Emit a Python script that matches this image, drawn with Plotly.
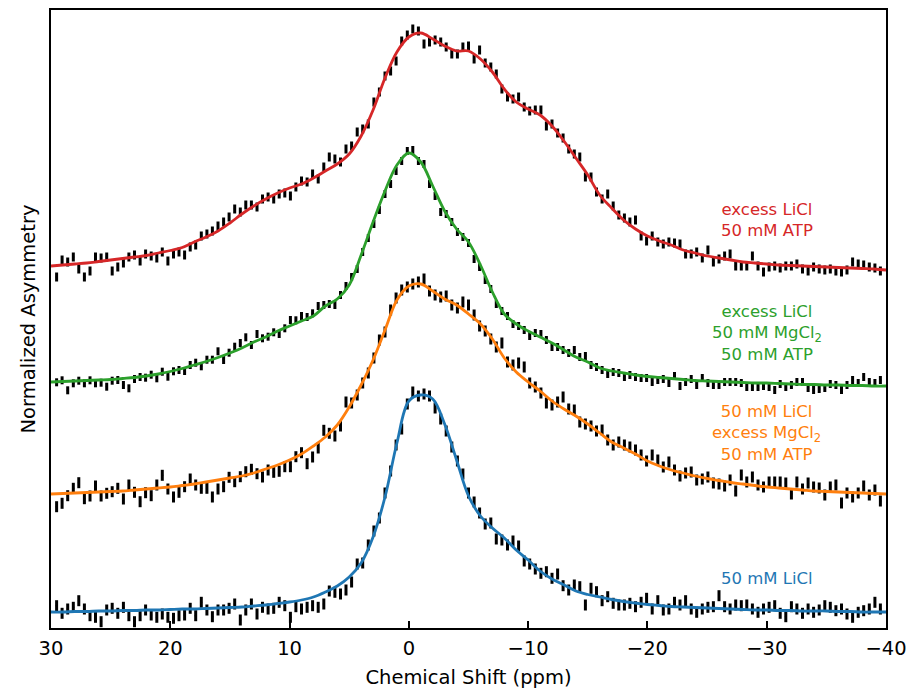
import plotly.graph_objects as go

# ---------------- data ----------------
# chemical-shift grid of the measured points (ppm)
PPM = [29.53, 29.07, 28.60, 28.13, 27.67, 27.20, 26.73, 26.27, 25.80, 25.33, 24.87, 24.40, 23.93, 23.47, 23.00,
       22.53, 22.07, 21.60, 21.13, 20.67, 20.20, 19.73, 19.27, 18.80, 18.33, 17.87, 17.40, 16.93, 16.47, 16.00,
       15.53, 15.07, 14.60, 14.13, 13.67, 13.20, 12.73, 12.27, 11.80, 11.33, 10.87, 10.40, 9.93, 9.47, 9.00,
       8.53, 8.07, 7.60, 7.13, 6.67, 6.20, 5.73, 5.27, 4.80, 4.33, 3.87, 3.40, 2.93, 2.47, 2.00,
       1.53, 1.07, 0.60, 0.13, -0.33, -0.80, -1.27, -1.73, -2.20, -2.67, -3.13, -3.60, -4.07, -4.53, -5.00,
       -5.47, -5.93, -6.40, -6.87, -7.33, -7.80, -8.27, -8.73, -9.20, -9.67, -10.13, -10.60, -11.07, -11.53, -12.00,
       -12.47, -12.93, -13.40, -13.87, -14.33, -14.80, -15.27, -15.73, -16.20, -16.67, -17.13, -17.60, -18.07, -18.53, -19.00,
       -19.47, -19.93, -20.40, -20.87, -21.33, -21.80, -22.27, -22.73, -23.20, -23.67, -24.13, -24.60, -25.07, -25.53, -26.00,
       -26.47, -26.93, -27.40, -27.87, -28.33, -28.80, -29.27, -29.73, -30.20, -30.67, -31.13, -31.60, -32.07, -32.53, -33.00,
       -33.47, -33.93, -34.40, -34.87, -35.33, -35.80, -36.27, -36.73, -37.20, -37.67, -38.13, -38.60, -39.07, -39.53]

# measured asymmetry (offset, arbitrary units)
RED_DATA = [351, 368, 366, 371, 359, 351, 357, 371, 370, 371,
            357, 361, 365, 371, 373, 367, 374, 372, 370, 376,
            367, 374, 376, 373, 381, 383, 392, 394, 397, 402,
            406, 411, 419, 416, 423, 423, 421, 429, 431, 429,
            434, 435, 432, 441, 447, 446, 454, 449, 461, 471,
            469, 466, 479, 482, 496, 499, 504, 526, 536, 552,
            557, 567, 587, 593, 599, 597, 584, 586, 588, 586,
            581, 574, 574, 581, 582, 569, 578, 565, 561, 554,
            539, 531, 529, 531, 521, 517, 518, 518, 502, 504,
            495, 490, 479, 474, 471, 451, 451, 436, 429, 434,
            422, 413, 410, 406, 408, 392, 387, 392, 386, 384,
            386, 385, 384, 374, 374, 376, 370, 378, 366, 369,
            372, 374, 362, 362, 362, 372, 362, 356, 361, 362,
            360, 362, 362, 364, 359, 357, 361, 359, 358, 359,
            357, 356, 358, 366, 364, 363, 361, 360, 357]

GREEN_DATA = [245.7, 247.7, 237.7, 244.7, 247.3, 244.7, 247.7, 244.7, 245.3, 241.3,
              247.3, 248, 243, 239.7, 249, 251, 250.3, 253.3, 249.7, 256.3,
              251.3, 256.7, 258, 257, 263, 265.3, 261.7, 268.3, 268.3, 276.7,
              268, 275.3, 281.3, 285, 290.7, 283, 294, 289.7, 291.3, 295.7,
              294, 299.7, 308, 307.7, 312, 311, 314.7, 322, 323, 324,
              323, 333, 342, 351, 359, 376, 390, 404, 418, 434,
              444, 457, 467, 477, 478, 467, 464, 444, 432, 416,
              414, 406, 396, 391, 385, 369, 361, 348, 339, 324,
              317, 312, 304, 302, 298, 292, 295, 294, 288, 281,
              281, 278, 275, 278, 271, 272, 263, 261, 258, 254,
              256, 255, 251, 253, 251, 250, 250, 246, 248, 249,
              245, 252, 242, 246, 249, 243, 250, 245, 243, 243,
              246, 246, 246, 245, 241, 241, 241, 242, 241, 238,
              244, 241, 243, 246, 246, 240, 238, 239, 240, 244,
              243, 238, 243, 248, 245, 251, 246, 245, 248]

ORANGE_DATA = [121.3, 124.7, 132.3, 139.7, 145.3, 129.3, 132, 142, 132, 134.7,
               136.3, 139.7, 129, 143, 135.7, 126.3, 135.3, 132.3, 143, 152.7,
               139, 131, 135.7, 141.3, 149, 143, 139.7, 139.7, 131, 139,
               141.3, 150.7, 146.3, 151.3, 156.3, 158.7, 154.3, 151, 158, 155.7,
               156.7, 161.3, 161.3, 171.3, 175.3, 164.3, 171, 180, 197.7, 194.7,
               192, 202, 226, 225, 233, 245, 255, 270, 288, 296,
               318, 330, 338, 341, 344, 346, 349, 337, 333, 331,
               332, 323, 320, 326, 323, 313, 302, 297, 289, 281,
               285, 266, 263, 265, 261, 245, 241, 235, 225, 223,
               226, 231, 219, 218, 206, 204, 202, 197, 198, 188,
               183, 186, 183, 181, 178, 173, 167, 173, 168, 161,
               166, 158, 152, 155, 156, 148, 149, 151, 145, 144,
               142, 148, 137, 153, 146, 151, 143, 141, 146, 146,
               146, 145, 134, 146, 139, 145, 141, 140, 133, 141,
               143, 125, 135, 131, 135, 142, 133, 138, 127]

BLUE_DATA = [22.3, 14.7, 19, 20.7, 27.3, 19, 12.3, 10.7, 6.3, 18,
             19.7, 14.7, 20.7, 12.3, 6.3, 12.3, 18, 13, 10.7, 14,
             10.7, 9.7, 12.3, 13, 19.7, 12.3, 25.7, 18, 11.3, 18,
             18, 19.7, 24, 8, 18, 24, 14, 20.7, 19, 19.7,
             25.7, 22.3, 10.7, 21.3, 19, 20.7, 22.3, 20.7, 24, 37,
             35.7, 34, 38, 46, 64, 65, 83, 97, 110, 135,
             157, 183, 199, 224, 236, 232, 234, 232, 220, 209,
             197, 181, 167, 154, 135, 126, 115, 104, 105, 89,
             88, 83, 87, 82, 67, 64, 59, 54.7, 56.3, 49.7,
             54, 42.3, 38, 43, 41.3, 23, 39.7, 36.3, 27.3, 31.3,
             24.7, 23, 23, 24.7, 21.3, 25.7, 29.7, 19, 27.3, 18,
             19, 25.7, 23, 27.3, 19, 15.7, 19, 20.7, 21.3, 32.3,
             21.3, 19, 23, 22.3, 23, 19, 15.7, 19, 20.7, 22.3,
             14.7, 11.3, 21.3, 19, 14.7, 19, 15.7, 18, 22.3, 20.7,
             17.3, 19, 14, 10.7, 15.7, 17.3, 19, 25.7, 19]

# uncertainty (half length of the error bars)
RED_ERR = 4.5
GREEN_ERR = 4.0
ORANGE_ERR = 5.5
BLUE_ERR = 5.5

# fitted curves, sampled every 1 ppm
FIT_PPM = [30, 29, 28, 27, 26, 25, 24, 23, 22, 21, 20, 19, 18, 17, 16, 15, 14, 13, 12, 11,
           10, 9, 8, 7, 6, 5, 4, 3, 2, 1, 0, -1, -2, -3, -4, -5, -6, -7, -8, -9,
           -10, -11, -12, -13, -14, -15, -16, -17, -18, -19, -20, -21, -22, -23, -24, -25, -26, -27, -28, -29,
           -30, -31, -32, -33, -34, -35, -36, -37, -38, -39, -40]

RED_FIT = [362, 363, 364, 365, 366.5, 368, 369.5, 371, 372.5, 375, 377.5, 380.5, 386, 391, 397, 405, 414, 422, 429, 435,
           440, 444, 450, 457, 464, 474, 492, 518, 550, 576, 591, 595, 589, 582, 577, 577, 569, 556, 539, 526,
           519, 513, 502, 487, 470, 453, 433, 420, 408, 399, 392, 387, 383, 378, 375, 372, 370, 368, 366, 365,
           364, 363, 362.5, 362, 361.5, 361, 360.5, 360, 359.5, 359, 358]

GREEN_FIT = [246, 246.5, 247, 247.5, 248, 248.5, 249.5, 250.5, 252, 254, 256.5, 259.5, 263, 266.5, 270.5, 275, 280, 286, 291, 297,
             302, 307, 312, 322, 329, 343, 373, 406, 437, 463, 475, 466, 442, 417, 399, 386, 363, 336, 314, 304,
             297, 291, 285, 278, 271, 266, 260, 257, 255, 253, 251.5, 250.5, 249.5, 248.5, 247.5, 247, 246.5, 246, 245.5, 245,
             245, 244.5, 244, 243.5, 243.5, 243, 243, 242.5, 242.5, 242, 242]

ORANGE_FIT = [134, 134.5, 135, 135.5, 136, 136.5, 137, 138, 139, 140, 141, 142.5, 144, 146, 148, 150, 152, 155, 159, 163,
              168, 174, 182, 191, 203, 221, 243, 268, 298, 328, 342, 344, 337, 329, 323, 314, 304, 289, 270, 256,
              246, 237, 227, 219, 212, 204, 195, 186, 180, 174, 167, 162, 158, 155, 152, 149.5, 147.5, 145.5, 144, 142.5,
              141, 140, 139, 138, 137, 136.5, 136, 135.5, 135, 134.5, 134]

BLUE_FIT = [16, 16, 16.5, 16.5, 17, 17, 17.5, 17.5, 18, 18, 18.5, 19, 19, 19.5, 20, 20.5, 21, 22, 23, 24.5,
            26, 28, 31, 36, 42, 51, 65, 91, 131, 185, 227, 233, 229, 204, 168, 132, 112, 100, 90, 78,
            68, 57, 49, 43, 37, 33.5, 31, 28.5, 26.5, 25, 23.5, 22.5, 21.5, 21, 20.5, 20, 19.5, 19, 18.5, 18,
            18, 17.5, 17.5, 17, 17, 17, 16.5, 16.5, 16, 16, 16]

# labels and their block centres
LABELS = [
    "excess LiCl<br>50 mM ATP",
    "excess LiCl<br>50 mM MgCl<sub>2</sub><br>50 mM ATP",
    "50 mM LiCl<br>excess MgCl<sub>2</sub><br>50 mM ATP",
    "50 mM LiCl",
]
LABEL_Y = [408, 295, 195, 50]
LABEL_X = -30

XTICKS = [30, 20, 10, 0, -10, -20, -30, -40]

COLORS = ["#d62728", "#2ca02c", "#ff7f0e", "#1f77b4"]
SERIES = [
    (RED_DATA, RED_ERR, RED_FIT),
    (GREEN_DATA, GREEN_ERR, GREEN_FIT),
    (ORANGE_DATA, ORANGE_ERR, ORANGE_FIT),
    (BLUE_DATA, BLUE_ERR, BLUE_FIT),
]

FONT = "DejaVu Sans"

fig = go.Figure()

# data points with error bars
for data, err, _ in SERIES:
    fig.add_trace(go.Scatter(
        x=PPM, y=data, mode="markers",
        marker=dict(size=2, color="black"),
        error_y=dict(type="constant", value=err, thickness=3, width=0, color="black"),
        showlegend=False, hoverinfo="skip",
    ))

# fitted curves on top
for (data, err, fit), col in zip(SERIES, COLORS):
    fig.add_trace(go.Scatter(
        x=FIT_PPM, y=fit, mode="lines",
        line=dict(color=col, width=2.8, shape="spline", smoothing=1.0),
        showlegend=False, hoverinfo="skip",
    ))

# text labels
for txt, yy, col in zip(LABELS, LABEL_Y, COLORS):
    fig.add_annotation(x=LABEL_X, y=yy, text=txt, showarrow=False,
                       xanchor="center", yanchor="middle", align="center",
                       font=dict(family=FONT, size=16.5, color=col))

fig.update_layout(
    width=911, height=689,
    margin=dict(l=51, r=25, t=10, b=61, autoexpand=False),
    paper_bgcolor="white", plot_bgcolor="white",
    font=dict(family=FONT, size=19.5, color="black"),
    showlegend=False,
)
fig.update_xaxes(
    range=[30, -40], tickmode="array", tickvals=XTICKS,
    ticks="inside", ticklen=7, tickwidth=1.5, tickcolor="black",
    showline=True, linewidth=1.8, linecolor="black", mirror=True,
    showgrid=False, zeroline=False, automargin=False,
    tickfont=dict(family=FONT, size=19.5, color="black"),
    ticklabelstandoff=2,
    title=dict(text="Chemical Shift (ppm)", font=dict(family=FONT, size=19.5, color="black"), standoff=17),
)
fig.update_yaxes(
    range=[0, 618], showticklabels=False, ticks="",
    showline=True, linewidth=1.8, linecolor="black", mirror=True,
    showgrid=False, zeroline=False, automargin=False,
    title=dict(text="Normalized Asymmetry", font=dict(family=FONT, size=19.5, color="black"), standoff=8),
)

fig.write_html("out.html")
